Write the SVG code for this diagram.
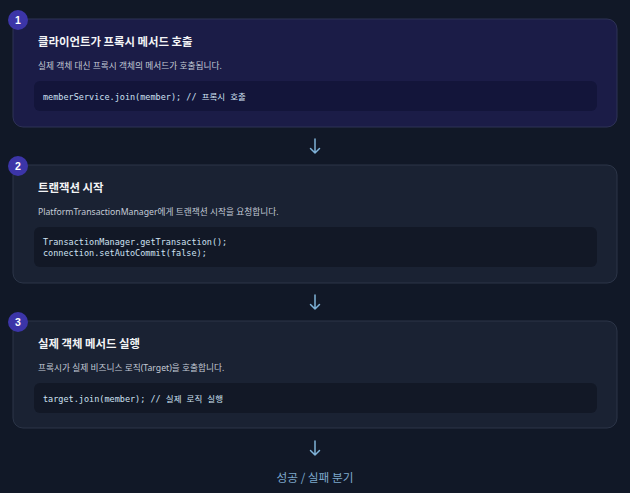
<svg xmlns="http://www.w3.org/2000/svg" width="630" height="493" viewBox="0 0 630 493">
<style>
.card{fill:#1a2233;stroke:#2c3548;stroke-width:1}
.card1{fill:#1b1c47;stroke:#2e3256;stroke-width:1}
.code{fill:#121826}
.code1{fill:#13153a}
.badge{fill:#3c35a8}
.num{font-family:"Liberation Sans",Arial,sans-serif;font-weight:bold;font-size:10.5px;fill:#ffffff;text-anchor:middle}
.title{font-family:"Noto Sans CJK KR","Noto Sans",sans-serif;font-weight:bold;font-size:11.4px;fill:#f3f4f6}
.sub{font-family:"Noto Sans","Noto Sans CJK KR",sans-serif;font-size:8.7px;fill:#c3cad6}
.mono{font-family:"DejaVu Sans Mono","Noto Sans CJK KR",monospace;font-size:8.5px;fill:#cfe1f2}
.arrow{fill:none;stroke:#7fb2d8;stroke-width:1.5;stroke-linecap:round;stroke-linejoin:round}
.end{font-family:"Noto Sans CJK KR","Noto Sans",sans-serif;font-size:11.7px;fill:#7ea8cc;text-anchor:middle}
</style>
<rect width="630" height="493" fill="#111827"/>
<g id="step1">
<rect class="card1" x="13" y="19" width="604" height="108" rx="10"/>
<circle class="badge" cx="18" cy="20" r="10"/>
<text class="num" x="18" y="23.8">1</text>
<text class="title" x="38" y="46">클라이언트가 프록시 메서드 호출</text>
<text class="sub" x="38" y="69">실제 객체 대신 프록시 객체의 메서드가 호출됩니다.</text>
<rect class="code1" x="34" y="81" width="563" height="30" rx="6"/>
<text class="mono" x="43" y="100">memberService.join(member); // 프록시 호출</text>
</g>
<g id="step2">
<rect class="card" x="13" y="165" width="604" height="118" rx="10"/>
<circle class="badge" cx="18" cy="166" r="10"/>
<text class="num" x="18" y="169.8">2</text>
<text class="title" x="38" y="191.5">트랜잭션 시작</text>
<text class="sub" x="38" y="215">PlatformTransactionManager에게 트랜잭션 시작을 요청합니다.</text>
<rect class="code" x="34" y="227" width="563" height="40" rx="6"/>
<text class="mono" x="43" y="244.5">TransactionManager.getTransaction();</text>
<text class="mono" x="43" y="256">connection.setAutoCommit(false);</text>
</g>
<g id="step3">
<rect class="card" x="13" y="321" width="604" height="107" rx="10"/>
<circle class="badge" cx="18" cy="322" r="10"/>
<text class="num" x="18" y="325.8">3</text>
<text class="title" x="38" y="348">실제 객체 메서드 실행</text>
<text class="sub" x="38" y="371">프록시가 실제 비즈니스 로직(Target)을 호출합니다.</text>
<rect class="code" x="34" y="383" width="563" height="30" rx="6"/>
<text class="mono" x="43" y="401.5">target.join(member); // 실제 로직 실행</text>
</g>
<g id="connectors">
<path class="arrow" d="M315 139 V153 M310.5 148.5 L315 153 L319.5 148.5"/>
<path class="arrow" d="M315 295 V309 M310.5 304.5 L315 309 L319.5 304.5"/>
<path class="arrow" d="M315 441 V455 M310.5 450.5 L315 455 L319.5 450.5"/>
</g>
<g id="result">
<text class="end" x="315" y="482">성공 / 실패 분기</text>
</g>
</svg>
